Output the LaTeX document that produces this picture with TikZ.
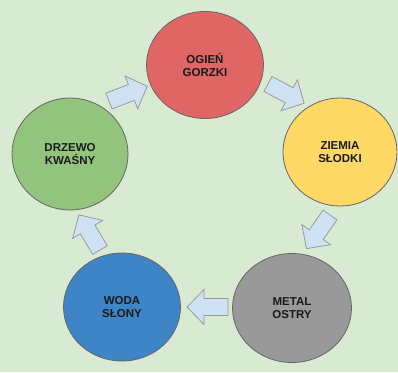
\documentclass[tikz,border=0pt]{standalone}
\usepackage{fontspec}
\setmainfont{Liberation Sans}
\definecolor{bg}{HTML}{D9EAD3}
\definecolor{cred}{HTML}{E06666}
\definecolor{cyellow}{HTML}{FFD966}
\definecolor{cgreen}{HTML}{93C47D}
\definecolor{cblue}{HTML}{3D85C6}
\definecolor{cgray}{HTML}{999999}
\definecolor{arrfill}{HTML}{CFE2F3}
\definecolor{txt}{HTML}{1A1A1A}
\tikzset{
  elem/.style={ellipse, draw=black!60, line width=0.8pt, inner sep=0pt,
    minimum width=117pt, minimum height=107pt, align=center,
    font=\bfseries\fontsize{11.5}{13}\selectfont, text=txt},
  blk/.style={fill=arrfill, draw=black!40, line width=0.8pt, line join=miter}
}
\usetikzlibrary{shapes.geometric}
\newcommand\blockarr[2]{%
  \draw[blk, shift={(#1)}, rotate=#2]
    (0,-8.5) -- (24,-8.5) -- (24,-17.5) -- (41,0) -- (24,17.5) -- (24,8.5) -- (0,8.5) -- cycle;}
\begin{document}
\begin{tikzpicture}[x=1pt,y=-1pt]
\fill[bg] (0,0) rectangle (398,372);
\useasboundingbox (0,0) rectangle (398,372);
\node[elem, fill=cred] (ogien) at (205,65) {OGIEŃ\\GORZKI};
\node[elem, fill=cyellow, minimum height=108pt, minimum width=114pt] (ziemia) at (340,152) {ZIEMIA\\SŁODKI};
\node[elem, fill=cgreen, minimum height=112pt, minimum width=116pt] (drzewo) at (70,154) {DRZEWO\\KWAŚNY};
\node[elem, fill=cblue, minimum height=108pt, minimum width=117pt] (woda) at (122,307) {WODA\\SŁONY};
\node[elem, fill=cgray, minimum height=109pt, minimum width=119pt] (metal) at (292,308) {METAL\\OSTRY};
\coordinate (t1) at (109,101);
\coordinate (t2) at (268,84);
\coordinate (t3) at (330,215);
\coordinate (t4) at (228,307);
\coordinate (t5) at (100,250);
\blockarr{t1}{21}
\blockarr{t2}{-28}
\blockarr{t3}{235}
\blockarr{t4}{180}
\blockarr{t5}{121}
\end{tikzpicture}
\end{document}
